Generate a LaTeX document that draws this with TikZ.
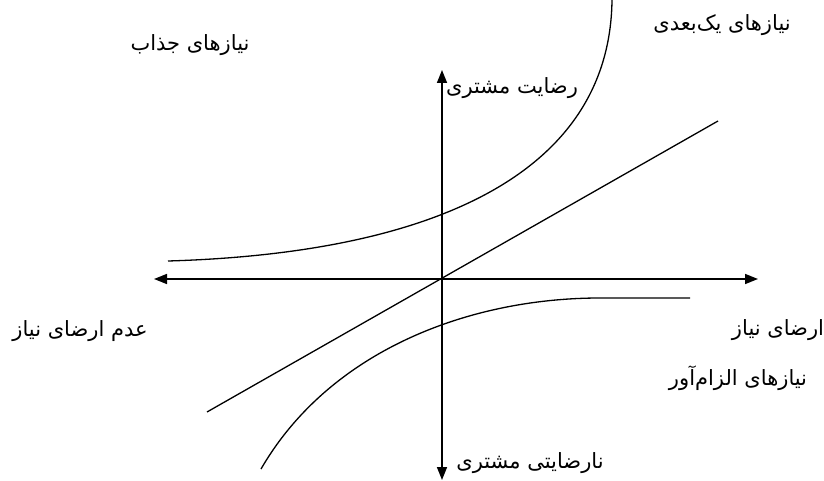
\documentclass[tikz,border=0pt]{standalone}
\usepackage{fontspec}
\newfontfamily\arabicfont[Script=Arabic]{DejaVu Sans}
\TeXXeTstate=1
\usetikzlibrary{arrows.meta}
\tikzset{
  axis/.style={line width=1.6pt,-{Triangle[length=13pt,width=10pt]}},
  curve/.style={line width=1.3pt},
  lbl/.style={inner sep=0pt,font=\arabicfont\fontsize{21}{24}\selectfont}
}
\begin{document}
\begin{tikzpicture}[x=1pt,y=-1pt]
\useasboundingbox (0,0) rectangle (824,481);
% axes
\coordinate (o) at (442,279);
\coordinate (xl) at (154,279);
\coordinate (xr) at (758,279);
\coordinate (yt) at (442,70);
\coordinate (yb) at (442,480);
\draw[axis] (o) -- (xl);
\draw[axis] (o) -- (xr);
\draw[axis] (o) -- (yt);
\draw[axis] (o) -- (yb);
% one-dimensional line
\coordinate (d1) at (207,412);
\coordinate (d2) at (718,121);
\draw[curve] (d1) -- (d2);
% attractive curve
\coordinate (a1) at (168,261);
\coordinate (a2) at (612,0);
\draw[curve] (a1) .. controls (440,253) and (610,170) .. (a2);
% must-be curve
\coordinate (m1) at (261,469);
\coordinate (m2) at (600,298);
\coordinate (m3) at (690,298);
\draw[curve] (m1) .. controls (330,350) and (470,298) .. (m2) -- (m3);
% labels
\node[lbl] (attr) at (190,45) {\beginR نیازهای جذاب\endR};
\node[lbl] (onedim) at (722,25) {\beginR نیازهای یک‌بعدی\endR};
\node[lbl] (sat) at (512,88) {\beginR رضایت مشتری\endR};
\node[lbl] (unful) at (80,331) {\beginR عدم ارضای نیاز\endR};
\node[lbl] (ful) at (778,330) {\beginR ارضای نیاز\endR};
\node[lbl] (must) at (738,378) {\beginR نیازهای الزام‌آور\endR};
\node[lbl] (dissat) at (530,463) {\beginR نارضایتی مشتری\endR};
\end{tikzpicture}
\end{document}
